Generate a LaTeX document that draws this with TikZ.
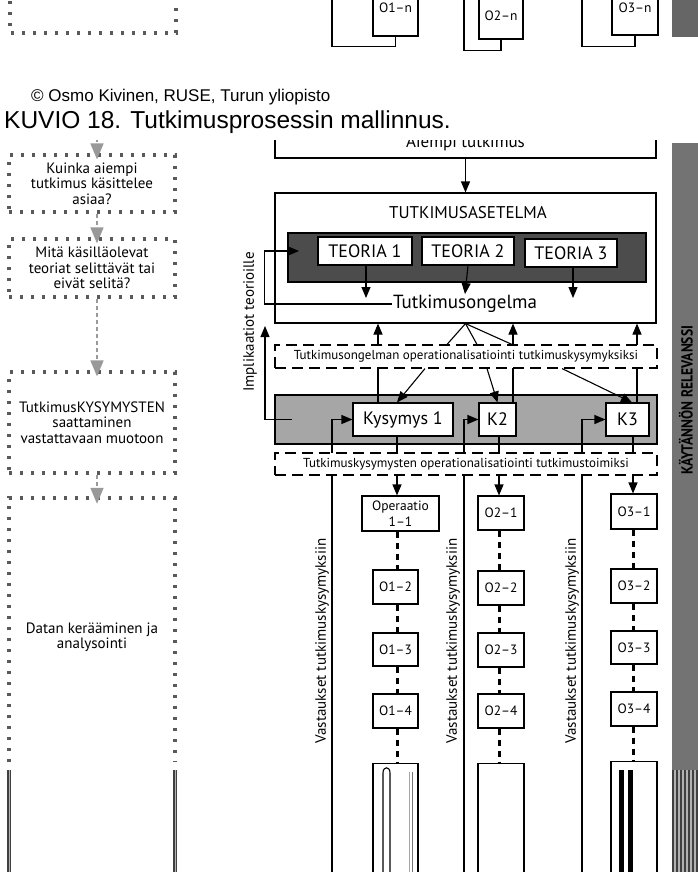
\documentclass[tikz,border=0pt]{standalone}
\usepackage{fontspec}
\usepackage{graphicx}
\setmainfont{Liberation Sans}
\newfontfamily\figfont{PT Sans}
\usetikzlibrary{arrows.meta}

\begin{document}
\begin{tikzpicture}[x=1pt, y=-1pt, >={Triangle[length=11pt,width=9pt]},
  box/.style={draw, fill=white, line width=1.1pt, inner sep=1pt, align=center},
  dbox/.style={draw, fill=white, line width=1.1pt, dash pattern=on 11pt off 6pt, inner sep=1pt},
  dotbox/.style={draw=black!65, line width=3.2pt, dash pattern=on 3.2pt off 7.8pt, align=center},
  conn/.style={line width=1.1pt},
  oconn/.style={line width=3pt, dash pattern=on 6pt off 5pt},
  garr/.style={draw=black!40, line width=1.5pt, dash pattern=on 4pt off 3pt, -{Triangle[length=16pt,width=13pt]}, shorten >=-6pt},
  lfont/.style={font=\figfont\fontsize{15}{15.5}\selectfont},
  ofont/.style={font=\figfont\fontsize{13.5}{16}\selectfont},
  dfont/.style={font=\figfont\fontsize{13}{15}\selectfont},
  tfont/.style={font=\figfont\fontsize{17}{19}\selectfont},
  kfont/.style={font=\figfont\fontsize{18}{20}\selectfont},
  vfont/.style={font=\figfont\fontsize{15}{17}\selectfont}]
\clip (0,0) rectangle (698,872);

% tail of the previous page
\draw[dotbox] (10,-10) -- (10,33) -- (176,33) -- (176,-10);
\node[box, ofont, minimum width=45pt, minimum height=56pt] (o1n) at (395.5,8) {O1–n};
\node[box, ofont, minimum width=44pt, minimum height=46pt] (o2n) at (501,16) {O2–n};
\node[box, ofont, minimum width=46pt, minimum height=54pt] (o3n) at (635,8) {O3–n};
\draw[conn] (o1n.south) -- ++(0,10) -| (332,-10);
\draw[conn] (o2n.south) -- ++(0,11) -| (464,-10);
\draw[conn] (o3n.south) -- ++(0,11) -| (582,-10);
\fill[black!60] (672,-10) rectangle (698,37);

% caption
\node[anchor=west, inner sep=0pt, font=\fontsize{17}{19}\selectfont] (copyr) at (31,97) {© Osmo Kivinen, RUSE, Turun yliopisto};
\node[anchor=west, inner sep=0pt, font=\fontsize{24.5}{27}\selectfont] (kuvio) at (4,122) {KUVIO 18. Tutkimusprosessin mallinnus.};

\begin{scope}
\clip (0,140.5) rectangle (698,880);

% left column
\node[dotbox, lfont, minimum width=166pt, minimum height=57pt] (qa) at (92,183.5) {Kuinka aiempi\\tutkimus käsittelee\\asiaa?};
\node[dotbox, lfont, minimum width=166pt, minimum height=58pt] (qb) at (92,268) {Mitä käsilläolevat\\teoriat selittävät tai\\eivät selitä?};
\node[dotbox, lfont, minimum width=166pt, minimum height=101pt] (qc) at (92,422.5) {TutkimusKYSYMYSTEN\\saattaminen\\vastattavaan muotoon};
\draw[dotbox] (9,762) -- (9,498) -- (175,498) -- (175,762);
\node[lfont, align=center, minimum width=166pt, minimum height=278pt] (qd) at (92,637) {Datan kerääminen ja\\analysointi};
\coordinate (qtop) at (97,138);
\draw[garr] (qtop) -- ([xshift=5pt]qa.north);
\draw[garr] ([xshift=5pt]qa.south) -- ([xshift=5pt]qb.north);
\draw[garr] ([xshift=5pt]qb.south) -- ([xshift=5pt]qc.north);
\draw[garr] ([xshift=5pt]qc.south) -- ([xshift=5pt]qd.north);
\foreach \xx in {9,175} {
  \draw[black!75, line width=3.2pt] (\xx,770) -- (\xx,880);
  \draw[black!30, line width=0.8pt] (\xx,770) -- (\xx,880);
}

% research design
\node[box, tfont, minimum width=381pt, minimum height=30pt] (aiempi) at (465.5,143) {Aiempi tutkimus};
\node[box, minimum width=381pt, minimum height=130pt] (asetelma) at (465.5,258) {};
\node[tfont] (astitle) at (468,213) {TUTKIMUSASETELMA};
\node[draw, line width=1.1pt, fill=black!70, minimum width=358pt, minimum height=49pt] (teoriat) at (467,257.5) {};
\node[box, kfont, minimum width=94pt, minimum height=28pt] (teo1) at (365,251) {TEORIA 1};
\node[box, kfont, minimum width=92pt, minimum height=28pt] (teo2) at (468,251) {TEORIA 2};
\node[box, kfont, minimum width=92pt, minimum height=28pt] (teo3) at (571,253) {TEORIA 3};
\node[inner sep=1pt, font=\figfont\fontsize{19}{21}\selectfont] (ongelma) at (465,304) {Tutkimusongelma};
\coordinate (t1) at (366,298);
\coordinate (t3) at (573,298);
\draw[conn,->] (aiempi.south) -- (asetelma.north);
\draw[conn,->] (teo1.south -| t1) -- (t1);
\draw[conn,->] (teo2.south) -- (ongelma.north);
\draw[conn,->] (teo3.south -| t3) -- (t3);
\coordinate (fb1) at (299,251);
\draw[conn,->] (ongelma.west) -- ++(-127,0) |- (fb1);
\node[vfont, rotate=90] (impl) at (250,322) {Implikaatiot teorioille};

% research questions
\node[draw, line width=1.1pt, fill=black!35, minimum width=382pt, minimum height=49pt] (kysymykset) at (466,419.5) {};
\node[box, kfont, minimum width=100pt, minimum height=33pt] (kys1) at (403,419.5) {Kysymys 1};
\node[box, kfont, minimum width=37pt, minimum height=33pt] (k2) at (497.5,419.5) {K2};
\node[box, kfont, minimum width=43pt, minimum height=33pt] (k3) at (627.5,419.5) {K3};
\coordinate (fb2) at (265,326);
\draw[conn,->] ([xshift=18pt]kysymykset.west) -| (fb2);

% operations
\node[box, ofont, minimum width=77pt, minimum height=35pt] (op11) at (400.5,513.5) {Operaatio\\1–1};
\node[box, ofont, minimum width=45pt, minimum height=34pt] (op12) at (395.5,587) {O1–2};
\node[box, ofont, minimum width=45pt, minimum height=33pt] (op13) at (395.5,649.5) {O1–3};
\node[box, ofont, minimum width=45pt, minimum height=34pt] (op14) at (395.5,711) {O1–4};
\node[box, minimum width=45pt, minimum height=130pt, anchor=north] (op1e) at (395.5,763) {};
\node[box, ofont, minimum width=46pt, minimum height=34pt] (op21) at (501,513) {O2–1};
\node[box, ofont, minimum width=46pt, minimum height=34pt] (op22) at (501,588) {O2–2};
\node[box, ofont, minimum width=46pt, minimum height=34pt] (op23) at (501,650) {O2–3};
\node[box, ofont, minimum width=46pt, minimum height=34pt] (op24) at (501,711) {O2–4};
\node[box, minimum width=46pt, minimum height=130pt, anchor=north] (op2e) at (501,763) {};
\node[box, ofont, minimum width=46pt, minimum height=35pt] (op31) at (634,511.5) {O3–1};
\node[box, ofont, minimum width=46pt, minimum height=34pt] (op32) at (634,586) {O3–2};
\node[box, ofont, minimum width=46pt, minimum height=33pt] (op33) at (634,647.5) {O3–3};
\node[box, ofont, minimum width=46pt, minimum height=34pt] (op34) at (634,709) {O3–4};
\node[box, minimum width=46pt, minimum height=130pt, anchor=north] (op3e) at (634,761) {};
\draw[line width=1.1pt] (383,880) -- (383,773) .. controls (383,766) and (390,766) .. (390,773) -- (390,880);
\draw[black!35, line width=1pt] (409,772) -- (409,880);
\draw[black!55, line width=1pt] (412,772) -- (412,880);
\fill (619,770) rectangle (624,880);
\fill (628,770) rectangle (633,880);

\coordinate (d1) at (397,0);
\coordinate (d2) at (499,0);
\coordinate (d3) at (633,0);
\draw[oconn] (op11.south -| d1) -- (op12.north -| d1);
\draw[oconn] (op12.south -| d1) -- (op13.north -| d1);
\draw[oconn] (op13.south -| d1) -- (op14.north -| d1);
\draw[oconn] (op14.south -| d1) -- (op1e.north -| d1);
\draw[oconn] (op21.south -| d2) -- (op22.north -| d2);
\draw[oconn] (op22.south -| d2) -- (op23.north -| d2);
\draw[oconn] (op23.south -| d2) -- (op24.north -| d2);
\draw[oconn] (op24.south -| d2) -- (op2e.north -| d2);
\draw[oconn] (op31.south -| d3) -- (op32.north -| d3);
\draw[oconn] (op32.south -| d3) -- (op33.north -| d3);
\draw[oconn] (op33.south -| d3) -- (op34.north -| d3);
\draw[oconn] (op34.south -| d3) -- (op3e.north -| d3);

% lines that run under the dashed boxes
\coordinate (u1) at (378,0);
\coordinate (u2) at (513,0);
\coordinate (u3) at (637,0);
\draw[conn,->] (kys1.north -| u1) -- (asetelma.south -| u1);
\draw[conn,->] (k2.north -| u2) -- (asetelma.south -| u2);
\draw[conn,->] (k3.north -| u3) -- (asetelma.south -| u3);
\coordinate (c1) at (332,880);
\coordinate (c2) at (464,880);
\coordinate (c3) at (582,880);
\draw[conn,->] (c1) |- (kys1.west);
\draw[conn,->] (c2) |- (k2.west);
\draw[conn,->] (c3) |- (k3.west);
\draw[conn,->] (kys1.south -| d1) -- (op11.north -| d1);
\draw[conn,->] (k2.south -| d2) -- (op21.north -| d2);
\draw[conn,->] (k3.south -| d3) -- (op31.north -| d3);

\node[dbox, dfont, minimum width=382pt, minimum height=23pt] (opq) at (466,356.5) {Tutkimusongelman operationalisatiointi tutkimuskysymyksiksi};
\node[dbox, dfont, minimum width=382pt, minimum height=22pt] (tqo) at (466,464) {Tutkimuskysymysten operationalisatiointi tutkimustoimiksi};
\draw[conn] (asetelma.south) -- ([xshift=-19pt]opq.north);
\draw[conn] (asetelma.south) -- ([xshift=11pt]opq.north);
\draw[conn] (asetelma.south) -- ([xshift=46pt]opq.north);
\draw[conn,->] ([xshift=-41pt]opq.south) -- ([xshift=-6pt]kys1.north);
\draw[conn,->] ([xshift=21pt]opq.south) -- (k2.north);
\draw[conn,->] ([xshift=96pt]opq.south) -- ([xshift=4.5pt]k3.north);

\node[vfont, rotate=90] (vast1) at (322,641) {Vastaukset tutkimuskysymyksiin};
\node[vfont, rotate=90] (vast2) at (453,641) {Vastaukset tutkimuskysymyksiin};
\node[vfont, rotate=90] (vast3) at (572,641) {Vastaukset tutkimuskysymyksiin};

% practical relevance bar
\fill[black!55] (672,143) rectangle (698,770);
\foreach \xx [count=\k] in {673,675,...,697} {
  \pgfmathtruncatemacro\shade{mod(\k,2)==0 ? 30 : 75}
  \draw[black!\shade, line width=1.2pt] (\xx,770) -- (\xx,880);
}
\node[rotate=90, font=\figfont\bfseries\fontsize{16}{18}\selectfont] (relev) at (686,400) {\scalebox{0.85}[1]{KÄYTÄNNÖN RELEVANSSI}};
\end{scope}
\end{tikzpicture}
\end{document}
